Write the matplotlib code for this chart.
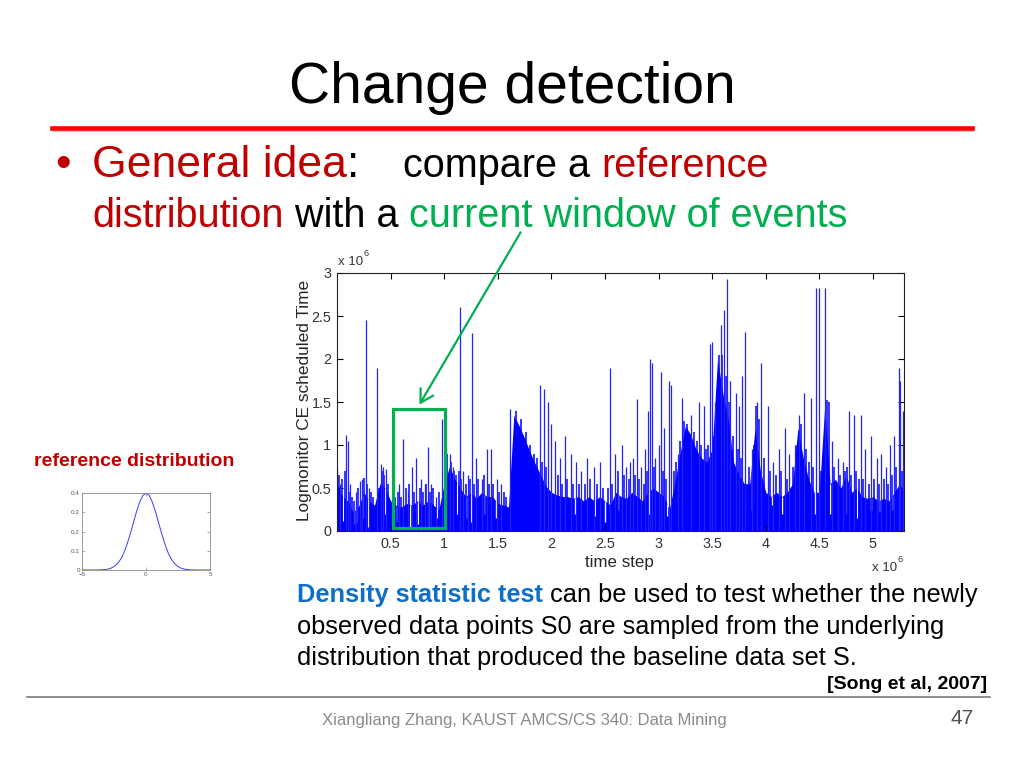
import numpy as np
import matplotlib
matplotlib.use('Agg')
import matplotlib.pyplot as plt
from matplotlib.lines import Line2D
from matplotlib.patches import Rectangle, FancyArrowPatch

plt.rcParams['font.family'] = ['Liberation Sans', 'DejaVu Sans']

W, H = 1024, 768

# ---- main series, time step and values in units of 1e6 ----
# level of the dense blue area, one value per 0.05e6 time steps
step_x = np.round(np.arange(0, 5.301, 0.05), 2)
step_level = [0.55, 0.40, 0.35, 0.22, 0.28, 0.45, 0.35, 0.30, 0.55, 0.50,
              0.35, 0.30, 0.28, 0.32, 0.30, 0.35, 0.30, 0.35, 0.30, 0.25,
              0.55, 0.75, 0.60, 0.50, 0.40, 0.45, 0.38, 0.45, 0.40, 0.40,
              0.32, 0.30, 0.28, 1.35, 1.22, 1.08, 0.92, 0.78, 0.65, 0.52,
              0.45, 0.42, 0.40, 0.40, 0.38, 0.40, 0.35, 0.40, 0.35, 0.40,
              0.35, 0.30, 0.45, 0.40, 0.38, 0.45, 0.40, 0.35, 0.45, 0.50,
              0.45, 0.40, 0.25, 0.55, 0.90, 1.22, 1.12, 0.95, 0.85, 0.80,
              0.95, 2.00, 1.60, 1.30, 0.80, 0.65, 0.55, 0.55, 1.20, 0.70,
              0.45, 0.40, 0.45, 0.40, 0.45, 0.55, 1.20, 0.85, 0.60, 0.45,
              0.45, 1.45, 0.55, 0.60, 0.50, 0.65, 0.45, 0.50, 0.40, 0.38,
              0.40, 0.35, 0.38, 0.35, 0.45, 0.55, 0.40]

# isolated tall peaks
spike_x = [0.00, 0.03, 0.08, 0.10, 0.12, 0.18, 0.21, 0.23, 0.27, 0.30,
           0.37, 0.41, 0.43, 0.46, 0.52, 0.58, 0.62, 0.66, 0.70, 0.74,
           0.78, 0.82, 0.85, 0.88, 0.92, 0.975, 1.02, 1.05, 1.08, 1.145,
           1.18, 1.22, 1.26, 1.30, 1.35, 1.40, 1.44, 1.49, 1.53, 1.615,
           1.89, 1.93, 1.97, 2.00, 2.03, 2.08, 2.13, 2.18, 2.23, 2.28,
           2.33, 2.40, 2.45, 2.55, 2.59, 2.66, 2.70, 2.73, 2.76, 2.80,
           2.84, 2.87, 2.90, 2.92, 2.94, 2.97, 3.00, 3.02, 3.05, 3.10,
           3.12, 3.18, 3.22, 3.30, 3.38, 3.42, 3.48, 3.50, 3.53, 3.58,
           3.61, 3.64, 3.67, 3.72, 3.75, 3.78, 3.81, 3.87, 3.92, 3.96,
           4.02, 4.07, 4.12, 4.18, 4.22, 4.27, 4.31, 4.36, 4.42, 4.47,
           4.50, 4.55, 4.62, 4.67, 4.72, 4.78, 4.82, 4.89, 4.93, 4.98,
           5.04, 5.08, 5.12, 5.16, 5.20, 5.24, 5.25, 5.28]
spike_h = [0.72, 0.55, 1.12, 1.05, 0.55, 0.45, 0.58, 0.60, 2.45, 0.50,
           1.90, 0.78, 0.75, 0.72, 0.40, 0.55, 1.07, 0.45, 0.75, 0.85,
           0.60, 0.55, 0.98, 0.55, 0.40, 1.30, 0.98, 0.90, 0.75, 2.60,
           0.70, 0.65, 2.30, 0.85, 0.60, 0.95, 0.95, 0.60, 0.55, 1.42,
           1.70, 1.65, 1.50, 1.25, 1.05, 0.85, 1.10, 0.90, 0.80, 0.70,
           0.85, 0.75, 0.80, 1.90, 0.90, 1.00, 0.75, 0.80, 0.85, 1.53,
           0.75, 0.95, 1.40, 2.00, 1.95, 0.85, 1.00, 1.85, 1.20, 1.75,
           1.70, 0.90, 1.55, 1.35, 1.50, 1.45, 2.18, 2.20, 1.50, 2.40,
           2.57, 2.93, 1.75, 1.60, 1.45, 1.80, 2.31, 0.95, 1.50, 1.95,
           1.45, 0.80, 0.95, 1.20, 0.90, 1.00, 1.35, 1.60, 1.55, 2.83,
           2.83, 2.83, 1.05, 0.85, 0.80, 1.40, 1.35, 1.35, 0.95, 1.10,
           0.85, 0.90, 0.75, 1.00, 1.10, 1.90, 1.75, 1.40]

# short peaks just above the dense area
hair_x = [0.02, 0.05, 0.07, 0.11, 0.14, 0.16, 0.20, 0.25, 0.28, 0.32,
          0.34, 0.39, 0.42, 0.44, 0.48, 0.54, 0.57, 0.60, 0.64, 0.67,
          0.72, 0.77, 0.80, 0.83, 0.87, 0.90, 0.95, 1.01, 1.03, 1.06,
          1.09, 1.11, 1.14, 1.16, 1.20, 1.24, 1.28, 1.32, 1.37, 1.42,
          1.46, 1.51, 1.56, 1.58, 1.67, 1.72, 1.76, 1.80, 1.84, 1.87,
          1.91, 1.95, 2.06, 2.10, 2.15, 2.20, 2.26, 2.31, 2.36, 2.43,
          2.48, 2.53, 2.57, 2.62, 2.68, 2.72, 2.78, 2.82, 2.86, 2.89,
          2.96, 3.04, 3.07, 3.14, 3.16, 3.20, 3.24, 3.27, 3.33, 3.36,
          3.40, 3.44, 3.46, 3.52, 3.56, 3.59, 3.63, 3.66, 3.69, 3.74,
          3.77, 3.84, 3.89, 3.91, 3.94, 3.98, 4.04, 4.10, 4.14, 4.20,
          4.25, 4.29, 4.33, 4.38, 4.40, 4.44, 4.52, 4.57, 4.59, 4.64,
          4.69, 4.74, 4.76, 4.80, 4.84, 4.87, 4.91, 4.96, 5.01, 5.06,
          5.10, 5.14, 5.18, 5.22, 5.27]
hair_h = [0.65, 0.60, 0.70, 0.45, 0.40, 0.35, 0.50, 0.62, 0.55, 0.45,
          0.40, 0.50, 0.70, 0.65, 0.55, 0.40, 0.45, 0.40, 0.50, 0.55,
          0.45, 0.50, 0.45, 0.55, 0.45, 0.50, 0.45, 0.85, 0.90, 0.80,
          0.70, 0.65, 0.70, 0.60, 0.55, 0.60, 0.55, 0.60, 0.65, 0.55,
          0.55, 0.45, 0.45, 0.40, 1.40, 1.30, 1.15, 1.00, 0.90, 0.85,
          0.80, 0.75, 0.65, 0.55, 0.60, 0.55, 0.55, 0.55, 0.60, 0.55,
          0.50, 0.50, 0.55, 0.70, 0.65, 0.60, 0.65, 0.60, 0.55, 0.70,
          0.75, 0.70, 0.60, 0.70, 0.80, 1.05, 1.28, 1.25, 1.15, 1.05,
          1.00, 0.95, 1.00, 1.10, 2.05, 2.05, 1.80, 1.50, 1.10, 0.95,
          0.85, 0.75, 1.00, 1.45, 1.30, 0.85, 0.70, 0.65, 0.70, 0.60,
          0.75, 1.00, 1.25, 0.95, 0.80, 0.75, 0.70, 1.52, 1.50, 0.75,
          0.65, 0.70, 0.75, 0.65, 0.70, 0.60, 0.60, 0.55, 0.60, 0.55,
          0.60, 0.55, 0.65, 0.75, 0.70]

# narrow low points inside the dense area
gap_x = [0.06, 0.16, 0.19, 0.24, 0.29, 0.45, 0.56, 0.68, 0.76, 0.86,
         0.93, 1.12, 1.20, 1.25, 1.37, 1.48, 2.22, 2.41, 2.50, 2.62,
         2.91, 3.08, 3.67, 3.87, 4.06, 4.15, 4.46, 4.60, 4.75, 4.85,
         4.98, 5.06, 5.18]
gap_low = [0.12, 0.08, 0.10, 0.15, 0.05, 0.20, 0.10, 0.05, 0.08, 0.05,
           0.15, 0.20, 0.15, 0.10, 0.20, 0.15, 0.20, 0.18, 0.10, 0.25,
           0.20, 0.18, 0.95, 0.25, 0.30, 0.20, 0.20, 0.20, 0.20, 0.15,
           0.25, 0.22, 0.25]

# current window of events
window_start, window_end = 0.52, 1.005
window_low, window_high = 0.03, 1.415

# reference distribution (standard normal density)
gauss_x = [-5, -4, -3.75, -3.5, -3.25, -3, -2.75, -2.5, -2.25, -2, -1.75, -1.5,
           -1.25, -1, -0.75, -0.5, -0.25, 0, 0.25, 0.5, 0.75, 1, 1.25, 1.5,
           1.75, 2, 2.25, 2.5, 2.75, 3, 3.25, 3.5, 3.75, 4, 5]
gauss_y = [0, 0, 0.0004, 0.0009, 0.002, 0.0044, 0.009, 0.018, 0.032, 0.054,
           0.086, 0.130, 0.183, 0.242, 0.301, 0.352, 0.387, 0.399, 0.387, 0.352,
           0.301, 0.242, 0.183, 0.130, 0.086, 0.054, 0.032, 0.018, 0.009, 0.0044,
           0.002, 0.0009, 0.0004, 0, 0]

RED = '#c00000'
GREEN = '#00b050'
BLUE = '#0000ff'


def fx(x):
    return x / W


def fy(y):
    return 1 - y / H


fig = plt.figure(figsize=(W / 100, H / 100), dpi=100)
renderer = fig.canvas.get_renderer()


def runs_text(x, y, runs):
    # draw coloured pieces of text one after another on one baseline
    for s, col, size, weight in runs:
        fig.text(fx(x), fy(y), s, color=col, fontsize=size, fontweight=weight,
                 ha='left', va='baseline')
        a = fig.text(0, 0, s + '|', fontsize=size, fontweight=weight)
        b = fig.text(0, 0, '|', fontsize=size, fontweight=weight)
        x += a.get_window_extent(renderer).width - b.get_window_extent(renderer).width
        a.remove()
        b.remove()


# title and rule
fig.text(fx(512), fy(103), 'Change detection', ha='center', va='baseline', fontsize=41)
fig.add_artist(Line2D([fx(53), fx(973)], [fy(130.5)] * 2, color='#a0a0a0', lw=1.2, alpha=0.6))
fig.add_artist(Line2D([fx(52), fx(972)], [fy(128)] * 2, color='#ff0000', lw=3.3))

# bullet text
fig.text(fx(55), fy(177), '\u2022', color=RED, fontsize=32, ha='left', va='baseline')
runs_text(92, 177, [('General idea', RED, 32, 'normal'), (':', 'black', 32, 'normal')])
runs_text(403, 177, [('compare a ', 'black', 28.5, 'normal'), ('reference', RED, 28.5, 'normal')])
runs_text(92, 227, [('distribution', RED, 28.5, 'normal'), (' with a ', 'black', 28.5, 'normal'),
                    ('current window of events', GREEN, 28.5, 'normal')])

# main chart
ax = fig.add_axes([fx(337), fy(531), (904 - 337) / W, (531 - 273) / H])
ax.fill_between(step_x, 0, step_level, color=BLUE, lw=0)
ax.vlines(gap_x, gap_low, np.interp(gap_x, step_x, step_level), color='white', lw=1.0)
ax.vlines(hair_x, 0, hair_h, color=BLUE, lw=1.1)
ax.vlines(spike_x, 0, spike_h, color='#2222ff', lw=0.9)
ax.set_xlim(0, 5.29)
ax.set_ylim(0, 3)
ax.set_xticks([0.5, 1, 1.5, 2, 2.5, 3, 3.5, 4, 4.5, 5])
ax.set_xticklabels(['0.5', '1', '1.5', '2', '2.5', '3', '3.5', '4', '4.5', '5'])
ax.set_yticks([0, 0.5, 1, 1.5, 2, 2.5, 3])
ax.set_yticklabels(['0', '0.5', '1', '1.5', '2', '2.5', '3'])
ax.tick_params(direction='in', length=4, width=0.8, top=True, right=True,
               labelsize=10.4, labelcolor='#333333', pad=4)
for sp in ax.spines.values():
    sp.set_linewidth(0.8)
    sp.set_color('#222222')

ax.add_patch(Rectangle((window_start, window_low), window_end - window_start,
                       window_high - window_low, fill=False, ec=GREEN, lw=2.3, clip_on=False, zorder=5))

fig.text(fx(305), fy(400), 'Logmonitor CE scheduled Time', rotation=90, ha='center', va='center',
         fontsize=12.4, color='#262626')
fig.text(fx(619), fy(563), 'time step', ha='center', va='center', fontsize=12.2, color='#262626')
fig.text(fx(338), fy(262), 'x 10', ha='left', va='center', fontsize=9.5, color='#333333')
fig.text(fx(363), fy(254), '6', ha='left', va='center', fontsize=6.5, color='#333333')
fig.text(fx(872), fy(568), 'x 10', ha='left', va='center', fontsize=9.5, color='#333333')
fig.text(fx(897), fy(560), '6', ha='left', va='center', fontsize=6.5, color='#333333')

# arrow from the text to the window
fig.add_artist(FancyArrowPatch(
    (fx(522), fy(230)), (fx(418), fy(407)), transform=fig.transFigure,
    arrowstyle='->,head_length=6,head_width=3.5', color=GREEN, lw=1.6, mutation_scale=1.5))

# small reference distribution plot
fig.text(fx(134), fy(462), 'reference distribution', color=RED, fontsize=14, fontweight='bold',
         ha='center', va='center')
ax2 = fig.add_axes([fx(82), fy(570), 128 / W, 77 / H])
ax2.plot(gauss_x, gauss_y, color='#3a3aff', lw=0.7)
ax2.set_xlim(-5, 5)
ax2.set_ylim(0, 0.4)
ax2.set_xticks([-5, 0, 5])
ax2.set_yticks([0, 0.1, 0.2, 0.3, 0.4])
ax2.set_yticklabels(['0', '0.1', '0.2', '0.3', '0.4'])
ax2.tick_params(direction='in', length=2, width=0.5, top=True, right=True,
                labelsize=4.5, labelcolor='#555555', pad=1.5, color='#888888')
for sp in ax2.spines.values():
    sp.set_linewidth(0.6)
    sp.set_color('#8a8a8a')

# description
runs_text(297, 602, [('Density statistic test', '#0f6fc6', 18.3, 'bold'),
                     (' can be used to test whether the newly', 'black', 18.3, 'normal')])
fig.text(fx(297), fy(634), 'observed data points S0 are sampled from the underlying',
         fontsize=18.3, ha='left', va='baseline')
fig.text(fx(297), fy(665), 'distribution that produced the baseline data set S.',
         fontsize=18.3, ha='left', va='baseline')
fig.text(fx(987), fy(689), '[Song et al, 2007]', fontsize=14, fontweight='bold',
         ha='right', va='baseline')

# footer
fig.add_artist(Line2D([fx(27), fx(990)], [fy(697)] * 2, color='#7a7a7a', lw=1.2))
fig.text(fx(524), fy(720), 'Xiangliang Zhang, KAUST AMCS/CS 340: Data Mining',
         fontsize=12, color='#8a8a8a', ha='center', va='center')
fig.text(fx(962), fy(718), '47', fontsize=15, color='#505050', ha='center', va='center')

fig.savefig('out.png', dpi=100)
